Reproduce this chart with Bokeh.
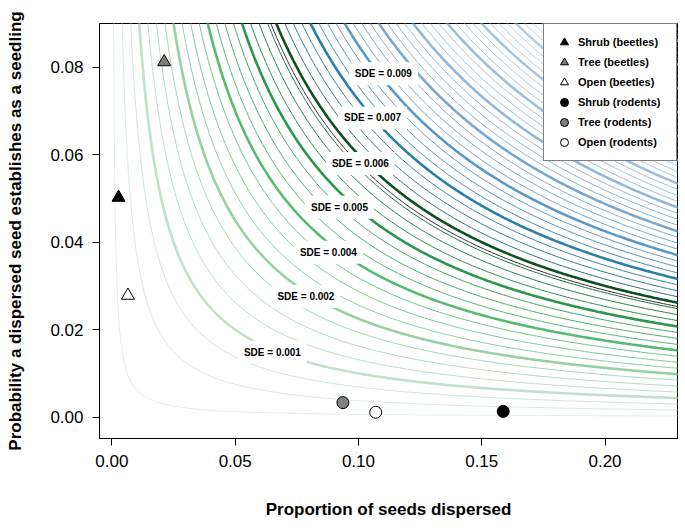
import numpy as np
from bokeh.plotting import figure
from bokeh.models import Range1d, FixedTicker, NumeralTickFormatter, Label, Legend, LegendItem
from bokeh.embed import file_html
from bokeh.resources import INLINE

# ---------------- data ----------------
x_ticks = [0.0, 0.05, 0.10, 0.15, 0.20]
y_ticks = [0.0, 0.02, 0.04, 0.06, 0.08]

group_names = ["Shrub (beetles)", "Tree (beetles)", "Open (beetles)",
               "Shrub (rodents)", "Tree (rodents)", "Open (rodents)"]
group_markers = ["triangle", "triangle", "triangle", "circle", "circle", "circle"]
group_fill = ["black", "#7f7f7f", "white", "black", "#7f7f7f", "white"]
prop_dispersed = [0.0027, 0.0212, 0.0065, 0.1587, 0.0937, 0.1070]
prob_establish = [0.0502, 0.0812, 0.0278, 0.0013, 0.0033, 0.0011]

sde_labels = ["SDE = 0.001", "SDE = 0.002", "SDE = 0.004", "SDE = 0.005",
              "SDE = 0.006", "SDE = 0.007", "SDE = 0.009"]
sde_label_x = [0.0651, 0.0787, 0.0878, 0.0923, 0.1008, 0.1057, 0.1101]
sde_label_y = [0.0148, 0.0276, 0.0377, 0.0480, 0.0580, 0.0684, 0.0785]

level_start = 0.0000625
level_step = 0.0003125
level_count = 67
highlight_level = 0.0058

# colour ramp along SDE level
ramp_levels = [0.0, 0.0010, 0.0023, 0.0035, 0.0047, 0.0056, 0.0060, 0.0064,
               0.0073, 0.0086, 0.0110, 0.0150, 0.0215]
ramp_colors = ["#e2efe6", "#c2e0ca", "#94d0a4", "#55bb72", "#2a9a4a", "#136b32",
               "#0b4f22", "#1f6e84", "#2c7fa8", "#6199c8", "#8fb8dc", "#b2cfe7",
               "#d3e3f0"]

FONT = "Liberation Sans"


def hex_rgb(h):
    h = h.lstrip("#")
    return [int(h[i:i + 2], 16) for i in (0, 2, 4)]


def ramp(v):
    rgb = np.array([hex_rgb(c) for c in ramp_colors], dtype=float)
    out = [np.interp(v, ramp_levels, rgb[:, k]) for k in range(3)]
    return "#%02x%02x%02x" % tuple(int(round(c)) for c in out)


levels = [level_start + k * level_step for k in range(level_count)]
line_colors = [ramp(v) for v in levels]
line_widths = [2.6 if (k - 3) % 4 == 0 else 1.0 for k in range(level_count)]

# SDE surface = proportion dispersed x establishment probability
gx = np.linspace(0.0, 0.232, 420)
gy = np.linspace(0.0, 0.092, 320)
Z = np.outer(gy, gx)

# ---------------- figure ----------------
p = figure(width=680, height=525, output_backend="svg", toolbar_location=None,
           x_range=Range1d(-0.00503, 0.2294), y_range=Range1d(-0.0049, 0.0900),
           min_border_left=99, min_border_right=3, min_border_top=23, min_border_bottom=87,
           background_fill_color="white", border_fill_color="white")

p.contour(x=gx, y=gy, z=Z, levels=levels, line_color=line_colors, line_width=line_widths)
p.contour(x=gx, y=gy, z=Z, levels=[highlight_level], line_color="#222222", line_width=1.0)

for t, lx, ly in zip(sde_labels, sde_label_x, sde_label_y):
    p.add_layout(Label(x=lx, y=ly, text=t, text_align="center", text_baseline="middle",
                       text_font=FONT, text_font_style="bold", text_font_size="10px",
                       text_color="black", background_fill_color="white", padding=6))

items = []
for i, name in enumerate(group_names):
    size = 13 if group_markers[i] == "triangle" else 12
    r = p.scatter(x=[prop_dispersed[i]], y=[prob_establish[i]], marker=group_markers[i],
                  size=size, fill_color=group_fill[i], line_color="black", line_width=1)
    items.append(LegendItem(label=name, renderers=[r]))

legend = Legend(items=items, location="top_right", margin=0, padding=8, spacing=0,
                glyph_width=24, glyph_height=20, label_standoff=2, label_width=90,
                label_text_font=FONT, label_text_font_size="11px",
                label_text_font_style="bold", label_text_color="black",
                border_line_color="black", border_line_width=1,
                background_fill_color="white", background_fill_alpha=1.0)
p.add_layout(legend)

p.xgrid.visible = False
p.ygrid.visible = False
p.outline_line_color = "black"
p.outline_line_width = 1
p.outline_line_alpha = 1

for ax, ticks in ((p.xaxis[0], x_ticks), (p.yaxis[0], y_ticks)):
    ax.ticker = FixedTicker(ticks=ticks)
    ax.formatter = NumeralTickFormatter(format="0.00")
    ax.major_label_text_font = FONT
    ax.major_label_text_font_size = "17px"
    ax.major_label_text_color = "black"
    ax.axis_label_text_font = FONT
    ax.axis_label_text_font_size = "17px"
    ax.axis_label_text_font_style = "bold"
    ax.axis_label_text_color = "black"
    ax.minor_tick_line_color = None
    ax.major_tick_in = 0
    ax.major_tick_out = 7
    ax.major_tick_line_color = "black"
    ax.axis_line_color = "black"
    ax.major_label_standoff = 9

p.xaxis[0].axis_label = "Proportion of seeds dispersed"
p.yaxis[0].axis_label = "Probability a dispersed seed establishes as a seedling"
p.xaxis[0].axis_label_standoff = 30
p.yaxis[0].axis_label_standoff = 22

open("out.html", "w").write(file_html(p, INLINE))
